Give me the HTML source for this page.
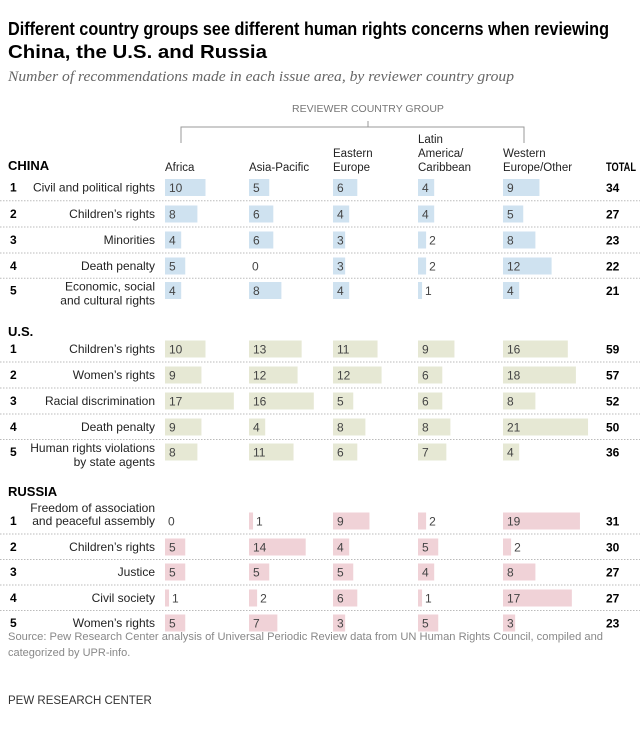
<!DOCTYPE html>
<html><head><meta charset="utf-8"><style>
body{margin:0;background:#fff;}
svg text{font-family:"Liberation Sans",sans-serif;}
</style></head><body>
<svg id="c" width="640" height="730" xmlns="http://www.w3.org/2000/svg">
<text x="8" y="35" font-size="18.5" font-weight="bold" fill="#000" textLength="601" lengthAdjust="spacingAndGlyphs">Different country groups see different human rights concerns when reviewing</text>
<text x="8" y="58" font-size="18.5" font-weight="bold" fill="#000" textLength="259" lengthAdjust="spacingAndGlyphs">China, the U.S. and Russia</text>
<text x="8" y="81" font-size="15" font-style="italic" fill="#666" textLength="506" lengthAdjust="spacingAndGlyphs" style="font-family:'Liberation Serif',serif">Number of recommendations made in each issue area, by reviewer country group</text>
<text x="368" y="112" font-size="10.5" fill="#777" text-anchor="middle">REVIEWER COUNTRY GROUP</text>
<path d="M181 143V127H524V143M368 127V121" fill="none" stroke="#999"/>
<g font-size="11.5" fill="#222">
<text x="165" y="171">Africa</text>
<text x="249" y="171">Asia-Pacific</text>
<text x="333" y="157">Eastern</text><text x="333" y="171">Europe</text>
<text x="418" y="143">Latin</text><text x="418" y="157">America/</text><text x="418" y="171">Caribbean</text>
<text x="503" y="157">Western</text><text x="503" y="171">Europe/Other</text>
<text x="606" y="171" font-weight="bold" fill="#000" textLength="30" lengthAdjust="spacingAndGlyphs">TOTAL</text>
</g>
<g id="rows"></g>
<text x="8" y="640" font-size="11" fill="#888" textLength="595" lengthAdjust="spacingAndGlyphs">Source: Pew Research Center analysis of Universal Periodic Review data from UN Human Rights Council, compiled and</text>
<text x="8" y="656" font-size="11" fill="#888">categorized by UPR-info.</text>
<text x="8" y="704" font-size="11.5" fill="#333">PEW RESEARCH CENTER</text>
</svg>
<script>
const groups=["Africa","Asia-Pacific","Eastern Europe","Latin America/Caribbean","Western Europe/Other"];
const chinaIssues=[["Civil and political rights"],["Children’s rights"],["Minorities"],["Death penalty"],["Economic, social","and cultural rights"]];
const chinaValues=[[10,5,6,4,9],[8,6,4,4,5],[4,6,3,2,8],[5,0,3,2,12],[4,8,4,1,4]];
const chinaTotals=[34,27,23,22,21];
const usIssues=[["Children’s rights"],["Women’s rights"],["Racial discrimination"],["Death penalty"],["Human rights violations","by state agents"]];
const usValues=[[10,13,11,9,16],[9,12,12,6,18],[17,16,5,6,8],[9,4,8,8,21],[8,11,6,7,4]];
const usTotals=[59,57,52,50,36];
const russiaIssues=[["Freedom of association","and peaceful assembly"],["Children’s rights"],["Justice"],["Civil society"],["Women’s rights"]];
const russiaValues=[[0,1,9,2,19],[5,14,4,5,2],[5,5,5,4,8],[1,2,6,1,17],[5,7,3,5,3]];
const russiaTotals=[31,30,27,27,23];

const colX=[165,249,333,418,503];
const xs=v=>v*4.05;
const NS="http://www.w3.org/2000/svg";
const root=document.getElementById('rows');
function mk(t,a,p){const e=document.createElementNS(NS,t);for(const k in a)e.setAttribute(k,a[k]);(p||root).appendChild(e);return e;}
const sections=[
 {name:"CHINA",hy:170,issues:chinaIssues,vals:chinaValues,tot:chinaTotals,color:"#cfe2f0",ys:[187.5,214,240,266,290.5],labelMode:"down"},
 {name:"U.S.",hy:336,issues:usIssues,vals:usValues,tot:usTotals,color:"#e6e8d4",ys:[349,375,401,427,452],labelMode:"down"},
 {name:"RUSSIA",hy:496,issues:russiaIssues,vals:russiaValues,tot:russiaTotals,color:"#f0d2d7",ys:[521,547,572,598,623],labelMode:"up"}];
sections.forEach((s,si)=>{
 const g=mk('g',{});
 
 
 const h=mk('text',{x:8,y:s.hy,'font-size':13,'font-weight':'bold',fill:'#000'},g);h.textContent=s.name;
 
 
 s.vals.forEach((row,ri)=>{
  const y=s.ys[ri];
  if(ri<4){const sy=(y+s.ys[ri+1])/2;const l=mk('line',{x1:0,x2:640,y1:sy,y2:sy,stroke:'#bbb','stroke-dasharray':'1.5,1.5'},g);
   
   }
  const n=mk('text',{x:10,y:y+4,'font-size':12,'font-weight':'bold',fill:'#000'},g);n.textContent=ri+1;
  
  
  const lines=s.issues[ri];
  lines.forEach((ln,li)=>{
   let ty;
   if(lines.length===1)ty=y+4;
   else if(s.labelMode==='down')ty=y+li*14; else ty=y+4-(1-li)*13;
   const t=mk('text',{x:155,y:ty,'font-size':12,'text-anchor':'end',fill:'#222'},g);t.textContent=ln;
   
   
  });
  row.forEach((v,ci)=>{
   const b=mk('rect',{x:colX[ci],y:y-8.5,width:xs(v),height:17,fill:s.color},g);
   
   
   const vt=mk('text',{x:colX[ci]+(v<=2?xs(v)+3:4),y:y+4.5,'font-size':12,fill:'#444'},g);vt.textContent=v;
   
   
  });
  const tt=mk('text',{x:606,y:y+4.5,'font-size':12,'font-weight':'bold',fill:'#000'},g);tt.textContent=s.tot[ri];
  
  
 });
});
</script>
</body></html>
